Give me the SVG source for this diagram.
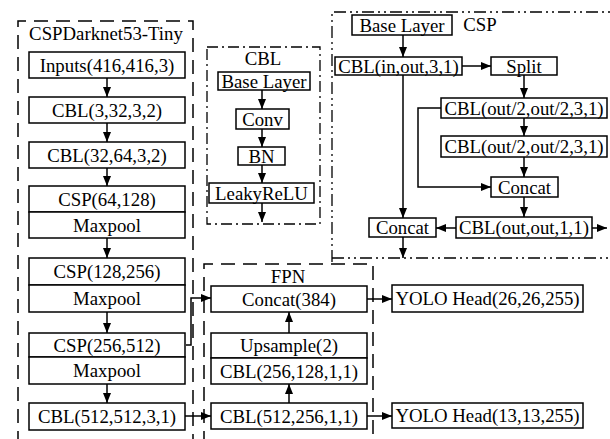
<svg xmlns="http://www.w3.org/2000/svg" width="610" height="439" viewBox="0 0 610 439">
<style>
.b{fill:#fff;stroke:#000;stroke-width:1.5}
.t{font-family:"Liberation Serif","Times New Roman",serif;font-size:18.8px;text-anchor:middle;fill:#000}
.c{fill:none;stroke:#000;stroke-width:1.5}
.dash{fill:none;stroke:#000;stroke-width:1.5;stroke-dasharray:14 8}
.dd{fill:none;stroke:#000;stroke-width:1.3;stroke-dasharray:11 4 2 4}
.ddd{fill:none;stroke:#000;stroke-width:1.3;stroke-dasharray:12 4 2 4 2 4}
</style>
<defs>
<marker id="a" viewBox="0 0 10 8" refX="10" refY="4" markerWidth="10" markerHeight="8" markerUnits="userSpaceOnUse" orient="auto">
<path d="M0,0 L10,4 L0,8 Z" fill="#000"/>
</marker>
</defs>
<rect fill="#fff" width="610" height="439"/>

<g id="panels">
<path class="dash" d="M18,445 V21 H193 V445"/>
<text class="t" x="106" y="40">CSPDarknet53-Tiny</text>
<rect class="dd" x="207" y="47" width="113" height="177"/>
<text class="t" x="263" y="65">CBL</text>
<path class="ddd" d="M332,262 V12 H615"/>
<path class="ddd" d="M332,258 H615"/>
<path class="dash" d="M204,445 V264 H373 V445"/>
<text class="t" x="288" y="283">FPN</text>
<text class="t" x="480" y="31">CSP</text>
</g>

<g id="inputs"><rect class="b" x="29" y="52" width="156" height="26"/><text class="t" x="107" y="71.5">Inputs(416,416,3)</text></g>
<g id="cbl1"><rect class="b" x="29" y="97" width="156" height="26"/><text class="t" x="107" y="116.5">CBL(3,32,3,2)</text></g>
<g id="cbl2"><rect class="b" x="29" y="142" width="156" height="26"/><text class="t" x="107" y="161.5">CBL(32,64,3,2)</text></g>
<g id="csp1"><rect class="b" x="29" y="186" width="156" height="26"/><text class="t" x="107" y="205.5">CSP(64,128)</text><rect class="b" x="29" y="212" width="156" height="26"/><text class="t" x="107" y="231.5">Maxpool</text></g>
<g id="csp2"><rect class="b" x="29" y="258" width="156" height="27"/><text class="t" x="107" y="278">CSP(128,256)</text><rect class="b" x="29" y="285" width="156" height="27"/><text class="t" x="107" y="305">Maxpool</text></g>
<g id="csp3"><rect class="b" x="29" y="333" width="156" height="24"/><text class="t" x="107" y="351.5">CSP(256,512)</text><rect class="b" x="29" y="357" width="156" height="27"/><text class="t" x="107" y="377">Maxpool</text></g>
<g id="cbl3"><rect class="b" x="29" y="403" width="156" height="27"/><text class="t" x="107" y="423">CBL(512,512,3,1)</text></g>

<g id="cbl-base"><rect class="b" x="218" y="72" width="92" height="18"/><text class="t" x="264" y="87.5">Base Layer</text></g>
<g id="cbl-conv"><rect class="b" x="236" y="109" width="53" height="20"/><text class="t" x="262.5" y="125.5">Conv</text></g>
<g id="cbl-bn"><rect class="b" x="238" y="147" width="47" height="18"/><text class="t" x="261.5" y="162.5">BN</text></g>
<g id="cbl-leaky"><rect class="b" x="209" y="183" width="105" height="20"/><text class="t" x="261.5" y="199.5">LeakyReLU</text></g>

<g id="csp-base"><rect class="b" x="352" y="15" width="100" height="20"/><text class="t" x="402" y="31.5">Base Layer</text></g>
<g id="csp-cblin"><rect class="b" x="335" y="57" width="127" height="18"/><text class="t" x="398.5" y="72.5">CBL(in,out,3,1)</text></g>
<g id="csp-split"><rect class="b" x="491" y="57" width="66" height="18"/><text class="t" x="524" y="72.5">Split</text></g>
<g id="csp-cblh1"><rect class="b" x="441" y="98" width="166" height="20"/><text class="t" x="524" y="114.5">CBL(out/2,out/2,3,1)</text></g>
<g id="csp-cblh2"><rect class="b" x="441" y="136" width="166" height="21"/><text class="t" x="524" y="153">CBL(out/2,out/2,3,1)</text></g>
<g id="csp-concat1"><rect class="b" x="491" y="177" width="67" height="20"/><text class="t" x="524.5" y="193.5">Concat</text></g>
<g id="csp-concat2"><rect class="b" x="369" y="218" width="67" height="19"/><text class="t" x="402.5" y="234">Concat</text></g>
<g id="csp-cblout"><rect class="b" x="456" y="217" width="136" height="21"/><text class="t" x="524" y="234">CBL(out,out,1,1)</text></g>

<g id="fpn-concat"><rect class="b" x="211" y="286" width="156" height="26"/><text class="t" x="289" y="305.5">Concat(384)</text></g>
<g id="fpn-up"><rect class="b" x="211" y="333" width="156" height="25"/><text class="t" x="289" y="352">Upsample(2)</text><rect class="b" x="211" y="358" width="156" height="26"/><text class="t" x="289" y="377.5">CBL(256,128,1,1)</text></g>
<g id="fpn-cbl"><rect class="b" x="211" y="403" width="156" height="26"/><text class="t" x="289" y="422.5">CBL(512,256,1,1)</text></g>
<g id="yolo26"><rect class="b" x="392" y="285" width="191" height="27"/><text class="t" x="487.5" y="305">YOLO Head(26,26,255)</text></g>
<g id="yolo13"><rect class="b" x="392" y="403" width="191" height="25"/><text class="t" x="487.5" y="422">YOLO Head(13,13,255)</text></g>

<g id="connectors" class="c" marker-end="url(#a)">
<path d="M107,78 V97"/>
<path d="M107,123 V142"/>
<path d="M107,168 V186"/>
<path d="M107,238 V258"/>
<path d="M107,312 V333"/>
<path d="M107,384 V403"/>
<path d="M186,345 H191 V298 H211"/>
<path d="M185,416 H211"/>
<path d="M289,403 V384"/>
<path d="M289,333 V312"/>
<path d="M367,299 H392"/>
<path d="M367,416 H392"/>
<path d="M262,90 V109"/>
<path d="M262,129 V147"/>
<path d="M262,165 V183"/>
<path d="M262,203 V222"/>
<path d="M403,35 V57"/>
<path d="M462,66 H491"/>
<path d="M524,75 V98"/>
<path d="M524,118 V136"/>
<path d="M524,157 V177"/>
<path d="M441,108 H418 V187 H491"/>
<path d="M403,75 V218"/>
<path d="M524,197 V217"/>
<path d="M456,228 H436"/>
<path d="M592,228 H607"/>
<path d="M403,237 V258"/>
</g>
</svg>
